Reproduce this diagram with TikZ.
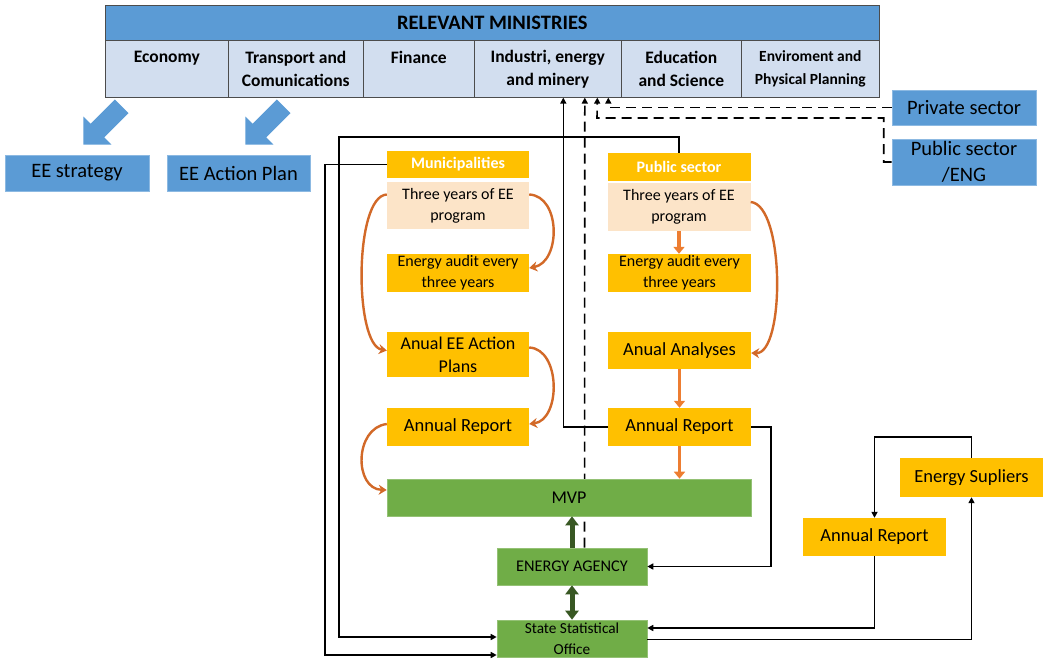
\documentclass[tikz,border=0pt]{standalone}
\usepackage{fontspec}
\setmainfont{Carlito}
\usepackage{tikz}
\usetikzlibrary{shapes.arrows, arrows.meta, backgrounds}
\definecolor{minblue}{RGB}{91, 155, 213}
\definecolor{minlight}{RGB}{210, 222, 239}
\definecolor{gold}{RGB}{255, 192, 0}
\definecolor{peach}{RGB}{252, 228, 200}
\definecolor{leaf}{RGB}{112, 173, 71}
\definecolor{forest}{RGB}{56, 87, 35}
\definecolor{flame}{RGB}{237, 125, 49}
\definecolor{rust}{RGB}{210, 105, 40}
\newcommand{\fsz}[2]{\fontsize{#1}{#2}\selectfont}

\begin{document}
\begin{tikzpicture}[x=1pt, y=-1pt,
  mincell/.style={draw=black!70, fill=minlight, line width=0.6pt, anchor=north west,
    minimum height=57pt, inner sep=1pt, align=center, font=\bfseries\fsz{17.5}{23}},
  box/.style={minimum width=143pt, inner sep=1pt, align=center},
  goldbox/.style={box, fill=gold, font=\fsz{18.5}{23}},
  peachbox/.style={box, fill=peach, font=\fsz{16}{21}},
  leafbox/.style={box, fill=leaf, draw=leaf!75!white, line width=0.6pt},
  bluebox/.style={box, fill=minblue, draw=minblue!70!white, line width=0.6pt, font=\fsz{20.5}{26}},
  headbox/.style={box, fill=gold, text=white, font=\bfseries\fsz{16}{20}},
  link/.style={line width=1.6pt, -{Triangle[length=6pt, width=6pt]}},
  dlink/.style={link, dash pattern=on 10pt off 6pt},
  curv/.style={line width=2.4pt, rust, -{Stealth[length=8pt, width=10pt]}},
  fat/.style={line width=3.5pt, flame, -{Triangle[length=7pt, width=11pt]}},
  green/.style={line width=5pt, forest},
  bigarrow/.style={single arrow, fill=minblue, rotate=225, minimum height=54pt, inner sep=9.5pt,
    single arrow head extend=10pt}]

  \useasboundingbox (0, 0) rectangle (1043, 659);

  \node[draw=black!70, fill=minblue, line width=0.6pt, anchor=north west, minimum width=774pt,
    minimum height=35pt, font=\bfseries\fsz{20.5}{22}] (mins) at (105, 5) {RELEVANT MINISTRIES};
  \foreach \nm/\xl/\cw/\txt in {eco/105/123/{Economy\\ \mbox{}},
      trans/228/135/{Transport and\\Comunications}, fin/363/111/{Finance\\ \mbox{}},
      ind/474/147/{Industri, energy\\and minery}, edu/621/120/{Education\\and Science},
      env/741/138/{\fsz{15.5}{21}Enviroment and\\\fsz{15.5}{21}Physical Planning}} {
    \node[mincell, minimum width=\cw] (\nm) at (\xl, 40) {\txt};
  }

  \node[bigarrow] (arrEco) at (106, 122) {};
  \node[bigarrow] (arrTrans) at (268, 122) {};
  \node[bluebox, minimum width=144pt, minimum height=36pt] (strat) at (77, 173) {EE strategy};
  \node[bluebox, minimum height=36pt] (plan) at (238.5, 173) {EE Action Plan};
  \node[bluebox, minimum width=144pt, minimum height=35pt] (priv) at (964, 107.5) {Private sector};
  \node[bluebox, minimum width=144pt, minimum height=46pt] (pubeng) at (964, 162) {Public sector\\/ENG};

  \node[headbox, minimum width=142pt, minimum height=27pt] (muhd) at (458, 164.5) {Municipalities};
  \node[peachbox, minimum width=142pt, minimum height=47pt] (mupro) at (458, 205.5) {Three years of EE\\program};
  \node[goldbox, minimum width=142pt, minimum height=38pt, font=\fsz{16}{21}] (muaud) at (458, 273) {Energy audit every\\three years};
  \node[goldbox, minimum width=142pt, minimum height=45pt, font=\fsz{18}{23}] (muplan) at (458, 354.5) {Anual EE Action\\Plans};
  \node[goldbox, minimum width=142pt, minimum height=38pt] (murep) at (458, 427) {Annual Report};

  \node[headbox, minimum height=28pt] (pubhd) at (679, 167) {Public sector};
  \node[peachbox, minimum height=48pt] (pubpro) at (679, 207) {Three years of EE\\program};
  \node[goldbox, minimum height=38pt, font=\fsz{16}{21}] (pubaud) at (679.5, 273) {Energy audit every\\three years};
  \node[goldbox, minimum height=37pt] (pubana) at (679.5, 350.5) {Anual Analyses};
  \node[goldbox, minimum height=38pt] (pubrep) at (679.5, 427) {Annual Report};

  \node[leafbox, minimum width=364pt, minimum height=37pt, font=\fsz{18}{20}] (mvp) at (569, 497.5) {MVP};
  \node[leafbox, minimum width=150pt, minimum height=37pt, font=\fsz{16.3}{20}] (ea) at (572, 566.5) {ENERGY AGENCY};
  \node[leafbox, minimum width=150pt, minimum height=37pt, font=\fsz{15.3}{21}] (sso) at (572, 638.5) {State Statistical\\Office};

  \node[goldbox, minimum height=39pt] (sup) at (971.5, 477.5) {Energy Supliers};
  \node[goldbox, minimum height=38pt] (suprep) at (874.5, 537) {Annual Report};

  \draw[curv] ([yshift=11pt]mupro.east) .. controls (561, 196) and (561, 262) .. ([yshift=5pt]muaud.east);
  \draw[curv] ([yshift=11pt]mupro.west) .. controls (354, 196) and (354, 345) .. ([yshift=4pt]muplan.west);
  \draw[curv] ([yshift=7pt]muplan.east) .. controls (561, 349) and (561, 420) .. ([yshift=3pt]murep.east);
  \draw[curv] ([yshift=3pt]murep.west) .. controls (354, 428) and (354, 489) .. ([yshift=7.5pt]mvp.west);
  \draw[curv] ([yshift=5pt]pubpro.east) .. controls (785, 205) and (785, 354) .. ([yshift=-2.5pt]pubana.east);

  \draw[fat] (pubpro.south) -- (pubpro.south |- pubaud.north);
  \draw[fat] (pubana.south) -- (pubrep.north);
  \draw[fat] (pubrep.south) -- (pubrep.south |- mvp.north);

  \draw[green, -{Triangle[length=9pt, width=13pt]}] (ea.north) -- (ea.north |- mvp.south);
  \draw[green, {Triangle[length=9pt, width=13pt]}-{Triangle[length=9pt, width=13pt]}] (ea.south) -- (sso.north);

  \begin{scope}[on background layer]
    \draw[dlink] ([xshift=12.5pt]ea.north) -- ([xshift=37pt]ind.south);
  \end{scope}
  \draw[link] (pubhd.north) |- (339, 137) |- ([yshift=1.5pt]sso.west);
  \draw[link] (muhd.west) -| (325, 655) -- ([yshift=-16.5pt]sso.west);
  \draw[link] (pubrep.west) -| ([xshift=15.5pt]ind.south);
  \draw[dlink] (priv.west) -| ([xshift=60.5pt]ind.south);
  \draw[dlink] (pubeng.west) -- ++(-8, 0) |- (597, 118) -- ([xshift=49.5pt]ind.south);
  \draw[link] (pubrep.east) -- (771, 427) |- (ea.east);

  \draw[link] (sup.north) -- ++(0, -21) -| (suprep.north);
  \draw[link] (suprep.south) |- ([yshift=10.5pt]sso.east);
  \draw[link] ([yshift=-1pt]sso.east) -| (sup.south);

\end{tikzpicture}
\end{document}
